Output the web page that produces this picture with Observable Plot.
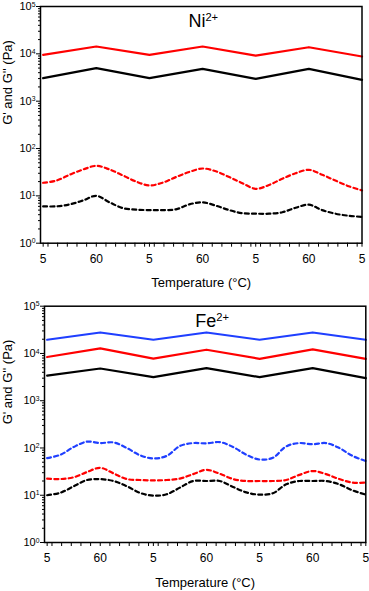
<!DOCTYPE html>
<html><head><meta charset="utf-8">
<script src="https://cdn.jsdelivr.net/npm/d3@7"></script>
<script src="https://cdn.jsdelivr.net/npm/@observablehq/plot@0.6"></script>
<style>body{margin:0;background:#fff} svg{display:block}</style>
</head><body><div id="chart"></div>
<script>
// x positions: segment index (each segment 5 -> 60 or 60 -> 5 °C)
const tLabels = ["5","60","5","60","5","60","5"];
const tNodes = [0,1,2,3,4,5,6];
const tQuarter = [0,0.25,0.5,0.75,1,1.25,1.5,1.75,2,2.25,2.5,2.75,3,3.25,3.5,3.75,4,4.25,4.5,4.75,5,5.25,5.5,5.75,6];
const minorDegrees = [10,20,30,40,50];
const xTitle = "Temperature (°C)";
const yTitle = "G' and G'' (Pa)";

// Ni2+ panel
const niRedSolid   = [9500,14300,9500,14300,9200,13800,8800];
const niBlackSolid = [3060,5000,3060,4830,2970,4830,2820];
const niRedDashed  = [18.9,21,28,36,43,36,27,20,16.6,19,25,32,37.8,33,25,18.5,14.1,17,23,30,35.5,28,21,16,13];
const niBlackDashed= [6.0,6.0,6.6,8.0,10.0,7.3,5.5,5.1,5.0,5.0,5.2,6.6,7.3,6.2,5.0,4.3,4.2,4.2,4.5,5.6,6.5,5.0,4.2,3.8,3.6];

// Fe2+ panel
const feBlueSolid  = [19500,27800,19500,27800,19500,27800,19500];
const feRedSolid   = [8400,12800,7800,12000,7700,12200,7700];
const feBlackSolid = [3400,4800,3150,4900,3150,4900,3000];
const feBlueDashed = [61,72,105,136,127,131,100,70,60,68,110,127,125,133,105,72,57,62,108,127,120,127,100,68,53];
const feRedDashed  = [22.4,22,24,31,38,29,22,21,20.6,21,22.5,28,34.5,28.5,22,20,20,20,21,27,32.5,28,22,18.5,18.5];
const feBlackDashed= [10,11.3,15.5,21,21.9,20,15.5,11.2,9.8,10.5,14.5,20,20,20,15,11.5,10.3,11,17,20,20,20,17,12.7,10.3];

const yMajor = [1,10,100,1000,10000,100000];
const yMinor = [];
for (const d of [1,10,100,1000,10000]) for (let m = 2; m <= 9; m++) yMinor.push(d*m);
const xMinor = [];
for (let k = 0; k < 6; k++) for (const v of minorDegrees) xMinor.push(k % 2 === 0 ? k + (v-5)/55 : k + (60-v)/55);

function supify(svg) {
  d3.select(svg).selectAll("text").each(function() {
    const s = this.textContent;
    const i = s.indexOf("^");
    if (i < 0) return;
    const el = d3.select(this);
    el.text(null);
    el.append("tspan").text(s.slice(0, i));
    el.append("tspan").attr("dy", "-0.5em").attr("font-size", "0.62em").text(s.slice(i+1));
  });
}

function panel({series, title, titleDx, height, ml, mr, mt, mb}) {
  const marks = [];
  for (const s of series) {
    const pts = s.y.map((v, i) => ({t: s.x[i], v}));
    marks.push(Plot.line(pts, {
      x: "t", y: "v", stroke: s.color, strokeWidth: 2.2,
      strokeDasharray: s.dashed ? "4,3.2" : null,
      curve: s.dashed ? "catmull-rom" : "linear"
    }));
  }
  marks.push(Plot.frame({stroke: "black", strokeWidth: 1.5}));
  marks.push(Plot.axisX(tNodes, {tickSize: 4, tickPadding: 7, fontSize: 12, tickFormat: i => tLabels[i], label: null}));
  marks.push(Plot.axisX(xMinor, {tickSize: 4, tickFormat: () => "", label: null}));
  marks.push(Plot.axisY(yMajor, {tickSize: 4, tickPadding: 1, fontSize: 11,
    tickFormat: d => "10^" + Math.round(Math.log10(d)), label: null}));
  marks.push(Plot.axisY(yMinor, {tickSize: 2, tickFormat: () => "", label: null}));
  marks.push(Plot.text([xTitle], {frameAnchor: "bottom", lineAnchor: "top", dy: 35, fontSize: 13, text: d => d}));
  marks.push(Plot.text([yTitle], {frameAnchor: "left", lineAnchor: "top", rotate: -90, dx: -(ml - 2), fontSize: 13, text: d => d}));
  marks.push(Plot.text([title], {frameAnchor: "top", lineAnchor: "bottom", dy: 20.5, dx: titleDx, fontSize: 18, text: d => d}));
  const svg = Plot.plot({
    width: 369, height, marginLeft: ml, marginRight: mr, marginTop: mt, marginBottom: mb,
    style: {fontFamily: "'Liberation Sans', Arial, sans-serif", fontSize: "12px", background: "white", color: "black"},
    x: {domain: [-0.05, 6]},
    y: {type: "log", domain: [1, 100000]},
    marks
  });
  supify(svg);
  return svg;
}

const chart = document.getElementById("chart");
chart.append(panel({
  series: [
    {x: tNodes, y: niRedSolid, color: "#ff0000", dashed: false},
    {x: tNodes, y: niBlackSolid, color: "#000000", dashed: false},
    {x: tQuarter, y: niRedDashed, color: "#ff0000", dashed: true},
    {x: tQuarter, y: niBlackDashed, color: "#000000", dashed: true}
  ],
  title: "Ni^2+", titleDx: 2, height: 300, ml: 40, mr: 7.5, mt: 6, mb: 57.3
}));
chart.append(panel({
  series: [
    {x: tNodes, y: feBlueSolid, color: "#1f3fff", dashed: false},
    {x: tNodes, y: feRedSolid, color: "#ff0000", dashed: false},
    {x: tNodes, y: feBlackSolid, color: "#000000", dashed: false},
    {x: tQuarter, y: feBlueDashed, color: "#1f3fff", dashed: true},
    {x: tQuarter, y: feRedDashed, color: "#ff0000", dashed: true},
    {x: tQuarter, y: feBlackDashed, color: "#000000", dashed: true}
  ],
  title: "Fe^2+", titleDx: 7, height: 291, ml: 44, mr: 3.7, mt: 5.7, mb: 49
}));
</script>
</body></html>
